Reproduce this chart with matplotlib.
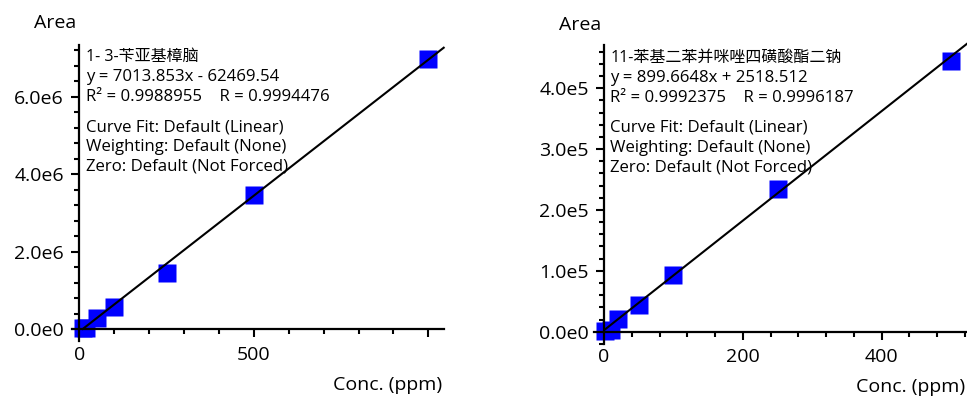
import numpy as np
import matplotlib
matplotlib.use("Agg")
import matplotlib.pyplot as plt
from matplotlib.ticker import MultipleLocator, FixedLocator, FuncFormatter

plt.rcParams['font.family'] = ['Open Sans', 'Noto Sans CJK SC', 'DejaVu Sans']

# calibration data
left_x = [10, 20, 50, 100, 250, 500, 1000]
left_y = [2.0e4, 3.0e4, 3.0e5, 5.7e5, 1.445e6, 3.46e6, 6.97e6]
left_fit = (7013.853, -62469.54)
left_name = "1- 3-苄亚基樟脑"
left_eq = "y = 7013.853x - 62469.54"
left_r = "R² = 0.9988955    R = 0.9994476"

right_x = [2, 10, 20, 50, 100, 250, 500]
right_y = [1.0e3, 3.0e3, 2.1e4, 4.4e4, 9.35e4, 2.342e5, 4.452e5]
right_fit = (899.6648, 2518.512)
right_name = "11-苯基二苯并咪唑四磺酸酯二钠"
right_eq = "y = 899.6648x + 2518.512"
right_r = "R² = 0.9992375    R = 0.9996187"

info = ["Curve Fit: Default (Linear)",
        "Weighting: Default (None)",
        "Zero: Default (Not Forced)"]

W, H = 967, 397
fig = plt.figure(figsize=(W / 100, H / 100), dpi=100)


def px(x, y):
    # pixel position -> figure fraction
    return x / W, 1 - y / H


def sci(v, pos):
    if v == 0:
        return "0.0e0"
    e = int(np.floor(np.log10(abs(v)) + 1e-9))
    return f"{v / 10**e:.1f}e{e}"


def panel(rect, xs, ys, fit, xlim, ylim, xmaj, xmin, ymaj, ymin, xlabels):
    ax = fig.add_axes(rect)
    ax.set_xlim(*xlim)
    ax.set_ylim(*ylim)
    for s in ['top', 'right']:
        ax.spines[s].set_visible(False)
    ax.spines['left'].set_position(('data', 0))
    ax.spines['bottom'].set_position(('data', 0))
    for s in ['left', 'bottom']:
        ax.spines[s].set_linewidth(1.6)
    ax.xaxis.set_major_locator(FixedLocator(xmaj))
    ax.xaxis.set_major_formatter(FuncFormatter(lambda v, p: xlabels.get(v, "")))
    ax.xaxis.set_minor_locator(MultipleLocator(xmin))
    ax.yaxis.set_major_locator(MultipleLocator(ymaj))
    ax.yaxis.set_minor_locator(MultipleLocator(ymin))
    ax.yaxis.set_major_formatter(FuncFormatter(sci))
    ax.tick_params(which='major', direction='out', length=6, width=1.5,
                   labelsize=14, colors='black')
    ax.tick_params(which='minor', direction='out', length=3.6, width=1.5)
    ax.tick_params(axis='y', which='major', pad=5)
    ax.tick_params(axis='x', which='major', pad=6)
    # fitted line runs from the first standard to the right edge
    a, b = fit
    lx = np.array([min(xs), xlim[1]])
    ax.plot(lx, a * lx + b, color='black', lw=1.5, zorder=3, clip_on=False)
    ax.plot(xs, ys, 's', color='#0000ff', ms=13.2, mec='none', zorder=2,
            clip_on=False)
    return ax


axL = panel([71.6 / W, 1 - 340.9 / H, 372.1 / W, (340.9 - 45) / H],
            left_x, left_y, left_fit, (-22, 1044), (-0.3e6, 7.33e6),
            [0, 500, 1000], 100, 2e6, 4e5, {0: "0", 500: "500"})
axR = panel([594.3 / W, 1 - 343.9 / H, (967 - 594.3) / W, (343.9 - 45) / H],
            right_x, right_y, right_fit, (-14, 523), (-0.2e5, 4.71e5),
            [0, 200, 400], 40, 1e5, 2e4, {0: "0", 200: "200", 400: "400"})

# axis titles
fig.text(*px(34, 27.5), "Area", fontsize=14, va='baseline', ha='left')
fig.text(*px(559, 29.5), "Area", fontsize=14, va='baseline', ha='left')
fig.text(*px(442, 390), "Conc. (ppm)", fontsize=14, va='baseline', ha='right')
fig.text(*px(965, 391.5), "Conc. (ppm)", fontsize=14, va='baseline', ha='right')

# fit annotations
for x0, y0, lines in [(86, 61, [left_name, left_eq, left_r]),
                      (610.5, 62, [right_name, right_eq, right_r])]:
    for i, t in enumerate(lines):
        fig.text(*px(x0, y0 + 20 * i), t, fontsize=11.5 if i == 0 else 12.1,
                 va='baseline')
    for i, t in enumerate(info):
        fig.text(*px(x0, y0 + 70 + 20 * i), t, fontsize=12.1, va='baseline')

fig.savefig("out.png", dpi=100)
